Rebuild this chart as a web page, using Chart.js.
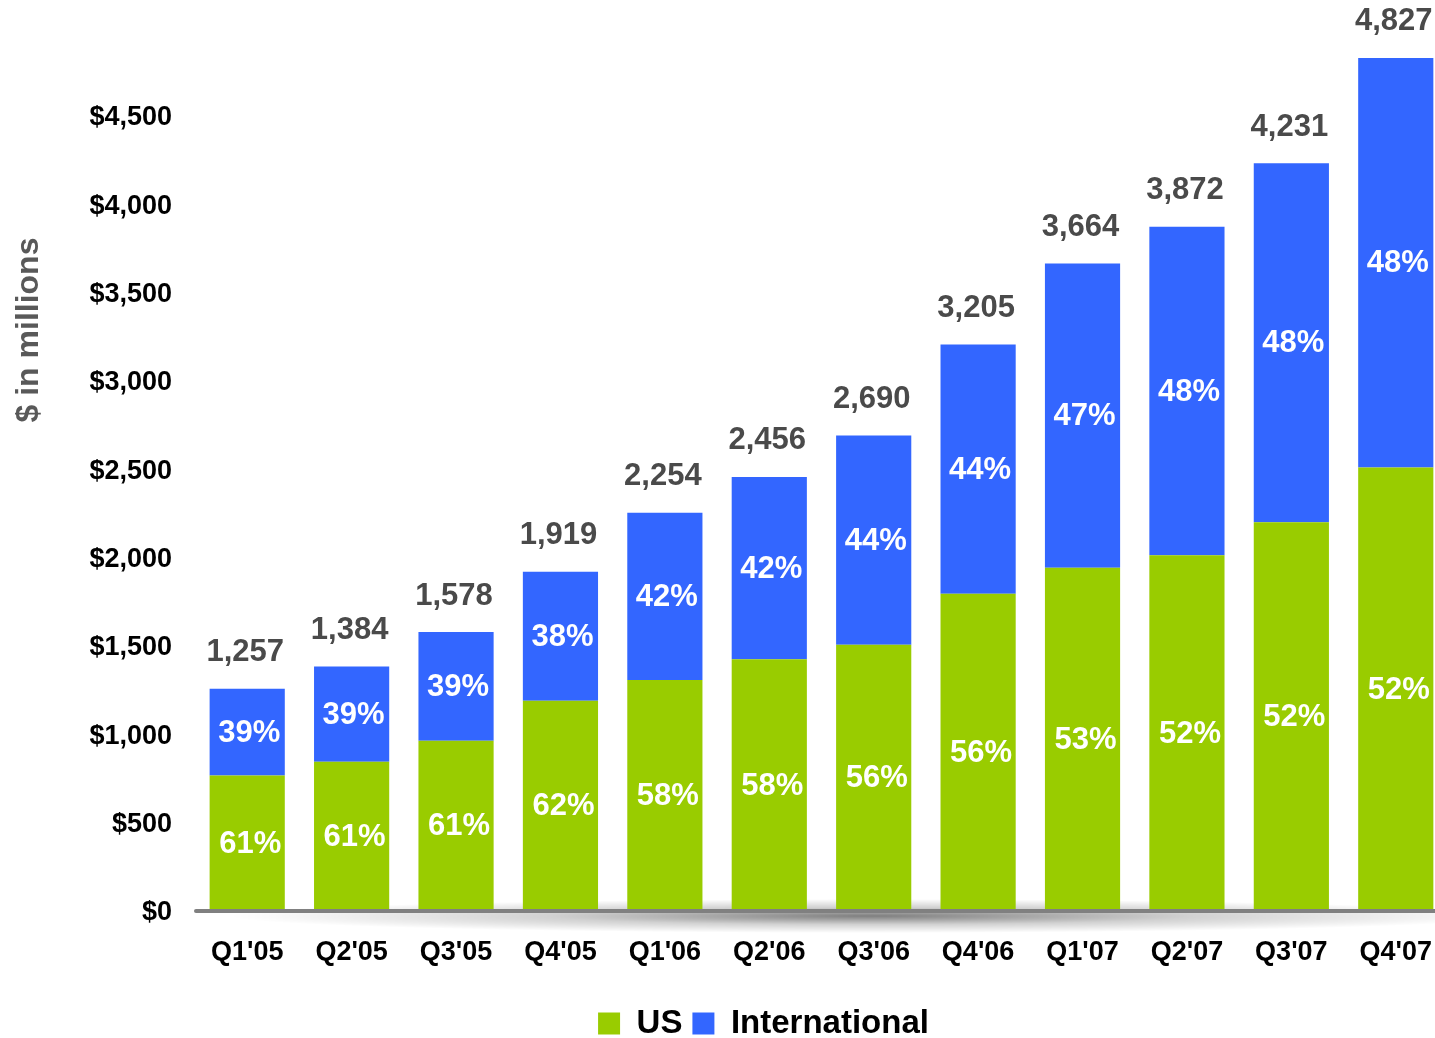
<!DOCTYPE html>
<html>
<head>
<meta charset="utf-8">
<title>Revenue US vs International</title>
<script src="https://cdn.jsdelivr.net/npm/chart.js@4.4.0/dist/chart.umd.min.js"></script>
<style>
  html, body { margin: 0; padding: 0; background: #fff; overflow: hidden; }
  #wrap { width: 1457px; height: 1050px; }
</style>
</head>
<body>
<div id="wrap"><canvas id="revChart" width="1457" height="1050"></canvas></div>
<script>
// data ($ in millions)
const quarters = ["Q1'05", "Q2'05", "Q3'05", "Q4'05", "Q1'06", "Q2'06", "Q3'06", "Q4'06", "Q1'07", "Q2'07", "Q3'07", "Q4'07"];
const totals = [1257, 1384, 1578, 1919, 2254, 2456, 2690, 3205, 3664, 3872, 4231, 4827];
const usRevenue = [767, 844, 963, 1190, 1307, 1424, 1506, 1795, 1942, 2013, 2200, 2510];
const intlRevenue = [490, 540, 615, 729, 947, 1032, 1184, 1410, 1722, 1859, 2031, 2317];
const usPct = [61, 61, 61, 62, 58, 58, 56, 56, 53, 52, 52, 52];
const intlPct = [39, 39, 39, 38, 42, 42, 44, 44, 47, 48, 48, 48];
const yTicks = [0, 500, 1000, 1500, 2000, 2500, 3000, 3500, 4000, 4500];

const GREEN = '#99cc00';
const BLUE = '#3366ff';
const FONT = '"Liberation Sans", Arial, Helvetica, sans-serif';

Chart.defaults.font.family = FONT;

// soft shadow under the baseline
const shadowPlugin = {
  id: 'baseShadow',
  beforeDatasetsDraw(chart) {
    const { ctx, chartArea } = chart;
    const cy = chartArea.bottom + 5;
    ctx.save();
    ctx.translate(870, cy);
    ctx.scale(640, 17);
    const g = ctx.createRadialGradient(0, 0, 0, 0, 0, 1);
    g.addColorStop(0, 'rgba(0,0,0,0.5)');
    g.addColorStop(0.5, 'rgba(0,0,0,0.18)');
    g.addColorStop(1, 'rgba(0,0,0,0)');
    ctx.fillStyle = g;
    ctx.beginPath();
    ctx.arc(0, 0, 1, 0, Math.PI * 2);
    ctx.fill();
    ctx.restore();
  }
};

// baseline, value labels, axis title
const labelPlugin = {
  id: 'labels',
  afterDatasetsDraw(chart) {
    const { ctx, chartArea } = chart;
    ctx.save();
    // base line
    ctx.strokeStyle = '#808080';
    ctx.lineWidth = 4;
    ctx.lineCap = 'round';
    ctx.beginPath();
    ctx.moveTo(chartArea.left + 1, chartArea.bottom);
    ctx.lineTo(chartArea.right, chartArea.bottom);
    ctx.stroke();

    ctx.textAlign = 'center';
    ctx.textBaseline = 'middle';
    const usMeta = chart.getDatasetMeta(0);
    const intlMeta = chart.getDatasetMeta(1);

    ctx.fillStyle = '#ffffff';
    ctx.font = 'bold 31px ' + FONT;
    usMeta.data.forEach((bar, i) => {
      ctx.fillText(usPct[i] + '%', bar.x + 3, (bar.y + bar.base) / 2 + 1);
    });
    intlMeta.data.forEach((bar, i) => {
      ctx.fillText(intlPct[i] + '%', bar.x + 2, (bar.y + bar.base) / 2 + 1);
    });

    ctx.fillStyle = '#4a4a4a';
    ctx.font = 'bold 31px ' + FONT;
    intlMeta.data.forEach((bar, i) => {
      ctx.fillText(totals[i].toLocaleString('en-US'), bar.x - 2, bar.y - 36);
    });

    // y axis title
    ctx.translate(28, 330);
    ctx.rotate(-Math.PI / 2);
    ctx.fillStyle = '#595959';
    ctx.font = 'bold 32px ' + FONT;
    ctx.fillText('$ in millions', 0, 1);
    ctx.restore();
  },
  afterLayout(chart) {
    // legend sits a bit right of the canvas centre
    const lg = chart.legend;
    if (lg) { lg.left += 35; lg.right += 35; }
  }
};

new Chart(document.getElementById('revChart'), {
  type: 'bar',
  data: {
    labels: quarters,
    datasets: [
      { label: 'US', data: usRevenue, backgroundColor: GREEN, barPercentage: 0.72, categoryPercentage: 1 },
      { label: 'International', data: intlRevenue, backgroundColor: BLUE, barPercentage: 0.72, categoryPercentage: 1 }
    ]
  },
  options: {
    responsive: false,
    animation: false,
    devicePixelRatio: 1,
    layout: { padding: { top: 45, left: 0, right: 0, bottom: 0 } },
    scales: {
      x: {
        stacked: true,
        grid: { display: false, drawTicks: false },
        border: { display: false },
        ticks: { color: '#000', font: { size: 27, weight: 'bold' }, padding: 25, maxRotation: 0 },
        afterFit(scale) { scale.height = 86; }
      },
      y: {
        stacked: true,
        min: 0,
        max: 4900,
        grid: { display: false, drawTicks: false },
        border: { display: false },
        afterBuildTicks(scale) { scale.ticks = yTicks.map(v => ({ value: v })); },
        ticks: {
          color: '#000',
          font: { size: 27, weight: 'bold' },
          padding: 23,
          labelOffset: 2,
          callback: v => '$' + Number(v).toLocaleString('en-US')
        },
        afterFit(scale) { scale.width = 195; }
      }
    },
    plugins: {
      legend: {
        position: 'bottom',
        labels: { color: '#000', font: { size: 33, weight: 'bold' }, boxWidth: 22, boxHeight: 22, padding: 10 }
      },
      tooltip: { enabled: false }
    }
  },
  plugins: [shadowPlugin, labelPlugin]
});
</script>
</body>
</html>
